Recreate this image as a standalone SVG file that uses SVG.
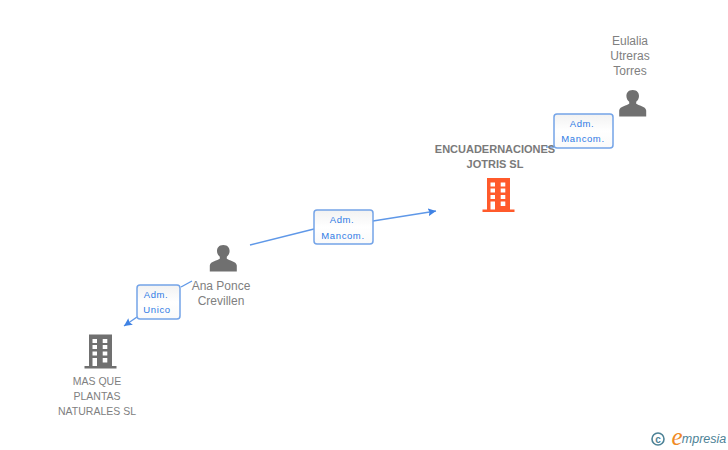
<svg xmlns="http://www.w3.org/2000/svg" width="728" height="450" viewBox="0 0 728 450">
<style>
text{font-family:"Liberation Sans",Arial,sans-serif;text-anchor:middle}
.n{font-size:12px;fill:#808080}
.m{font-size:10.500px;fill:#808080}
.b{font-weight:bold;font-size:11px;fill:#7a7a7a}
.l{font-size:9.500px;fill:#2f7ae5;letter-spacing:.6px}
.box{fill:url(#g);stroke:#74a4e8;stroke-width:1.500}
.c{fill:none;stroke:#5f98e8;stroke-width:1.400}
.p{fill:#707070}
</style>
<defs>
<linearGradient id="g" x1="0" y1="0" x2="0" y2="1"><stop offset="0" stop-color="#f2f2f2"/><stop offset=".5" stop-color="#fff"/><stop offset="1" stop-color="#fafafa"/></linearGradient>
<marker id="a" markerWidth="10" markerHeight="10" refX="8" refY="4" orient="auto" markerUnits="userSpaceOnUse"><path d="M0 0L8 4L0 8L1.500 4Z" fill="#3f82e4"/></marker>
<g id="person"><path d="M0 -14.500C-4.500 -14.500 -6.300 -11.500 -6.300 -8.500C-6.300 -6 -5 -3.800 -3.500 -2.800V-0.800C-5.500 1 -13 1.500 -13.500 6V12H13.500V6C13 1.500 5.500 1 3.500 -0.800V-2.800C5 -3.800 6.300 -6 6.300 -8.500C6.300 -11.500 4.500 -14.500 0 -14.500Z"/></g>
<g id="bld"><path fill-rule="evenodd" d="M-11.500 -17H11.500V14.500H16V17H-16V14.500H-11.500ZM-8 -12.500V-8.500H-3.500V-12.500ZM2.200 -12.500V-8.500H6.800V-12.500ZM-8 -6.500V-2.500H-3.500V-6.500ZM2.200 -6.500V-2.500H6.800V-6.500ZM-8 0V4H-3.500V0ZM2.200 0V4H6.800V0ZM-8 6.500V14.500H-3.500V6.500ZM2.200 6.500V11H6.800V6.500Z"/></g>
</defs>
<g id="connectors">
<path class="c" d="M250 245L314 229"/>
<path class="c" d="M373 221L436 211" marker-end="url(#a)"/>
<path class="c" d="M554 147H546"/>
<path class="c" d="M181 287L192 281"/>
<path class="c" d="M137 317L124 326" marker-end="url(#a)"/>
</g>
<g id="node-encuadernaciones">
<text class="b" x="495" y="153">ENCUADERNACIONES</text>
<text class="b" x="495" y="168">JOTRIS SL</text>
<use href="#bld" x="498.500" y="195" fill="#ff5a2b"/>
</g>
<g id="node-eulalia">
<text class="n" x="630" y="45">Eulalia</text>
<text class="n" x="630" y="60">Utreras</text>
<text class="n" x="630" y="75">Torres</text>
<use href="#person" x="632.700" y="104.500" class="p"/>
</g>
<g id="node-ana">
<use href="#person" x="223.300" y="259.500" class="p"/>
<text class="n" x="221" y="290">Ana Ponce</text>
<text class="n" x="221" y="305">Crevillen</text>
</g>
<g id="node-masque">
<use href="#bld" x="100.500" y="351.500" class="p"/>
<text class="m" x="97" y="385">MAS QUE</text>
<text class="m" x="97" y="400">PLANTAS</text>
<text class="m" x="97" y="415">NATURALES SL</text>
</g>
<g id="label-1">
<rect class="box" x="314" y="210" width="59" height="34" rx="3"/>
<text class="l" x="342" y="223">Adm.</text>
<text class="l" x="343" y="239">Mancom.</text>
</g>
<g id="label-2">
<rect class="box" x="554" y="114" width="59" height="34" rx="3"/>
<text class="l" x="582" y="127">Adm.</text>
<text class="l" x="583" y="142">Mancom.</text>
</g>
<g id="label-3">
<rect class="box" x="137" y="285" width="43" height="34" rx="3"/>
<text class="l" x="156" y="298">Adm.</text>
<text class="l" x="157" y="313">Unico</text>
</g>
<g id="logo">
<circle cx="658" cy="439" r="6" fill="none" stroke="#4d8296" stroke-width="1.600"/>
<text x="658" y="442.500" style="font-size:10px;font-weight:bold;fill:#4d8296">c</text>
<text x="677" y="445" style="font-family:'Liberation Serif',serif;font-style:italic;font-size:25px;fill:#f08a24">e</text>
<text x="704" y="443" style="font-family:'Liberation Sans',sans-serif;font-style:italic;font-size:12.500px;fill:#4d8296">mpresia</text>
</g>
</svg>
